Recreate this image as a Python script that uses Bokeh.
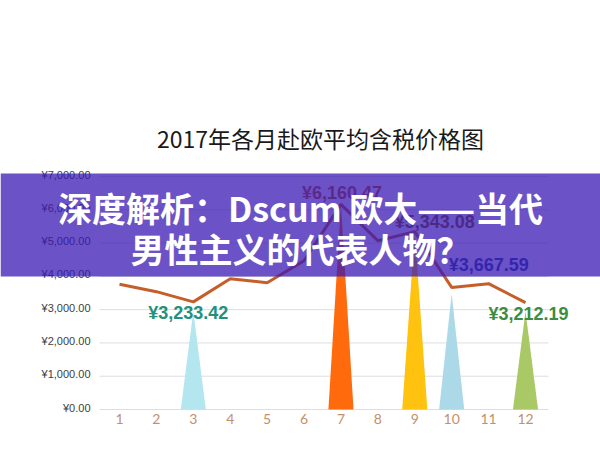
from bokeh.plotting import figure
from bokeh.models import Range1d, BoxAnnotation, Label, ColumnDataSource
from bokeh.core.properties import value
from bokeh.embed import file_html
from bokeh.resources import INLINE

# ---- data ----
months = [1, 2, 3, 4, 5, 6, 7, 8, 9, 10, 11, 12]
month_labels = ["1", "2", "3", "4", "5", "6", "7", "8", "9", "10", "11", "12"]
avg_price = [3765, 3540, 3233.42, 3930, 3810, 4470, 6160.47, 5070, 5343.08, 3667.59, 3780, 3212.19]

spike_months = [3, 7, 9, 10, 12]
spike_values = [2950, 6160.47, 5343.08, 3480, 2950]
spike_colors = ["#b4e6f0", "#ff6a0d", "#ffc20e", "#acd9e8", "#a8c966"]

label_months = [3, 7, 9, 10, 12]
label_values = [3233.42, 6160.47, 5343.08, 3667.59, 3212.19]
label_texts = ["¥3,233.42", "¥6,160.47", "¥5,343.08", "¥3,667.59", "¥3,212.19"]
label_colors = ["#23907c", "#c55a11", "#7f6000", "#1f4e9e", "#3d8c40"]
label_dx = [-5, 1, 20, 37, 3]
label_dy = [11, -11, -10, -22, 11]

y_ticks = [0, 1000, 2000, 3000, 4000, 5000, 6000, 7000]
y_tick_labels = ["¥0.00", "¥1,000.00", "¥2,000.00", "¥3,000.00",
                 "¥4,000.00", "¥5,000.00", "¥6,000.00", "¥7,000.00"]

title_text = "2017年各月赴欧平均含税价格图"
banner_lines = ["深度解析：Dscum 欧大——当代", "男性主义的代表人物？"]

# ---- layout constants (pixels on the 600x450 canvas) ----
W, H = 600, 450
PX_M1, PX_M12 = 119, 525        # x pixel of month 1 / month 12
PY_0, PY_7000 = 409, 176        # y pixel of value 0 / 7000
ux = (PX_M12 - PX_M1) / 11.0    # pixels per month
uy = (PY_0 - PY_7000) / 7000.0  # pixels per unit value

def dx(px):
    return 1 + (px - PX_M1) / ux

def dy(py):
    return (PY_0 - py) / uy

p = figure(width=W, height=H, output_backend="svg", toolbar_location=None,
           x_range=Range1d(dx(0), dx(W)), y_range=Range1d(dy(H), dy(0)),
           min_border=0, x_axis_type=None, y_axis_type=None)
p.outline_line_color = None
p.background_fill_color = "white"
p.border_fill_color = "white"
p.xgrid.visible = False
p.ygrid.visible = False

# horizontal grid lines at the y ticks
p.segment(x0=[dx(99)] * len(y_ticks), x1=[dx(548)] * len(y_ticks),
          y0=y_ticks, y1=y_ticks, line_color="#dedede", line_width=1)

# spikes (triangles)
half_w = 0.34
xs = [[m - half_w, m, m + half_w] for m in spike_months]
ys = [[0, v, 0] for v in spike_values]
p.patches(xs=xs, ys=ys, fill_color=spike_colors, line_color=None)

# line
p.line(months, avg_price, line_color="#c65e2a", line_width=3)

# value labels
src = ColumnDataSource(dict(x=label_months, y=label_values, t=label_texts,
                            c=label_colors, dx=label_dx, dy=label_dy))
p.text(x="x", y="y", text="t", text_color="c", x_offset="dx", y_offset="dy",
       source=src, text_align="center", text_baseline="middle",
       text_font=value("Liberation Sans"), text_font_style="bold",
       text_font_size="18px")

# y tick labels
p.text(x=[dx(90)] * len(y_ticks), y=y_ticks, text=y_tick_labels,
       text_align="right", text_baseline="middle", y_offset=-2,
       text_font=value("Liberation Sans"), text_font_size="11px",
       text_color="#404040")

# x tick labels
p.text(x=months, y=[dy(418)] * len(months), text=month_labels,
       text_align="center", text_baseline="middle",
       text_font=value("Lato"), text_font_size="14px", text_color="#c4906a")

# title
p.add_layout(Label(x=dx(320), y=dy(137), text=title_text, text_align="center",
                   text_baseline="middle", text_font="Noto Sans CJK SC",
                   text_font_size="23px", text_color="#1a1a1a"))

# banner overlay
p.add_layout(BoxAnnotation(top=dy(173), bottom=dy(276),
                           fill_color="#3a18b3", fill_alpha=0.75,
                           line_color=None, level="annotation"))
for txt, py in zip(banner_lines, [207, 248]):
    p.add_layout(Label(x=dx(300), y=dy(py), text=txt, text_align="center",
                       text_baseline="middle", text_font="Noto Sans CJK SC",
                       text_font_style="bold", text_font_size="34px",
                       text_color="white", level="overlay"))

open("out.html", "w").write(file_html(p, INLINE))
